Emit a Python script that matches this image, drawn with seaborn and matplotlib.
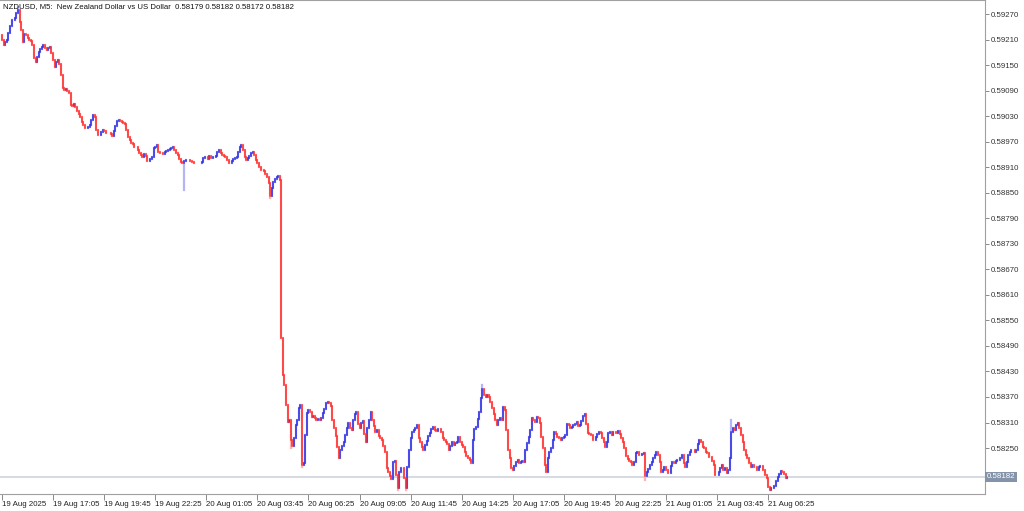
import numpy as np
import pandas as pd
import seaborn as sns
import matplotlib.pyplot as plt

# NZDUSD M5 closes in points (1e-5), one per bar, starting 19 Aug 2025 14:25
closes_pts = [
    59209, 59197, 59204, 59209, 59225, 59242, 59256, 59256, 59261, 59272, 59280, 59251, 59232, 59204, 59223, 59221,
    59214, 59209, 59207, 59197, 59167, 59157, 59169, 59181, 59188, 59193, 59197, 59190, 59186, 59190, 59193, 59178,
    59162, 59146, 59157, 59162, 59153, 59127, 59096, 59092, 59094, 59089, 59084, 59056, 59054, 59059, 59052, 59042,
    59035, 59028, 59016, 59009, 59002, 59002, 59005, 59009, 59021, 59033, 59028, 58998, 58986, 58986, 58993, 58998,
    58995, 58990, 58990, 58990, 58988, 58983, 58995, 59007, 59019, 59021, 59019, 59016, 59014, 59012, 58998, 58981,
    58974, 58967, 58965, 58958, 58958, 58951, 58943, 58939, 58934, 58941, 58936, 58925, 58925, 58929, 58934, 58955,
    58958, 58962, 58946, 58943, 58943, 58941, 58946, 58948, 58951, 58953, 58955, 58958, 58951, 58943, 58939, 58929,
    58922, 58920, 58925, 58927, 58927, 58927, 58925, 58922, 58920, 58920, 58920, 58920, 58920, 58922, 58932, 58934,
    58934, 58930, 58936, 58932, 58935, 58933, 58937, 58946, 58951, 58943, 58939, 58936, 58934, 58927, 58920, 58919,
    58925, 58929, 58932, 58934, 58946, 58958, 58962, 58951, 58934, 58927, 58932, 58936, 58943, 58946, 58939, 58927,
    58920, 58911, 58904, 58904, 58901, 58894, 58887, 58873, 58842, 58861, 58875, 58882, 58887, 58889, 58880, 58509,
    58422, 58398, 58351, 58311, 58316, 58269, 58255, 58274, 58304, 58316, 58344, 58351, 58210, 58215, 58281, 58333,
    58340, 58335, 58323, 58325, 58321, 58316, 58318, 58315, 58321, 58333, 58342, 58356, 58358, 58356, 58349, 58316,
    58297, 58278, 58253, 58227, 58246, 58255, 58264, 58281, 58297, 58309, 58297, 58293, 58316, 58330, 58335, 58307,
    58297, 58309, 58314, 58283, 58264, 58297, 58316, 58335, 58316, 58302, 58288, 58293, 58278, 58274, 58269, 58255,
    58241, 58203, 58194, 58184, 58177, 58217, 58220, 58187, 58156, 58194, 58203, 58203, 58180, 58156, 58206, 58246,
    58274, 58288, 58293, 58297, 58304, 58274, 58264, 58253, 58246, 58257, 58267, 58278, 58285, 58295, 58300, 58293,
    58290, 58295, 58295, 58288, 58274, 58269, 58264, 58260, 58246, 58255, 58264, 58257, 58262, 58264, 58276, 58264,
    58257, 58253, 58241, 58231, 58227, 58222, 58215, 58269, 58295, 58300, 58318, 58335, 58368, 58389, 58375, 58370,
    58375, 58370, 58358, 58344, 58330, 58316, 58304, 58316, 58321, 58316, 58347, 58340, 58293, 58246, 58227, 58203,
    58199, 58208, 58217, 58222, 58215, 58217, 58220, 58217, 58246, 58262, 58276, 58293, 58321, 58316, 58311, 58323,
    58321, 58309, 58276, 58250, 58210, 58194, 58227, 58241, 58250, 58269, 58288, 58283, 58276, 58274, 58269, 58274,
    58276, 58281, 58307, 58304, 58297, 58300, 58304, 58307, 58311, 58302, 58304, 58314, 58325, 58330, 58307, 58285,
    58283, 58281, 58269, 58269, 58276, 58283, 58288, 58285, 58274, 58264, 58253, 58264, 58285, 58288, 58281, 58288,
    58288, 58286, 58289, 58283, 58274, 58264, 58250, 58231, 58224, 58220, 58217, 58210, 58217, 58238, 58241, 58234,
    58233, 58236, 58238, 58184, 58194, 58201, 58210, 58217, 58227, 58234, 58241, 58234, 58217, 58194, 58199, 58206,
    58199, 58191, 58192, 58208, 58217, 58216, 58220, 58222, 58221, 58227, 58234, 58215, 58206, 58217, 58234, 58241,
    58246, 58245, 58241, 58246, 58260, 58269, 58264, 58253, 58250, 58241, 58238, 58229, 58228, 58220, 58210, 58187,
    58187, 58194, 58203, 58210, 58199, 58203, 58191, 58199, 58227, 58288, 58297, 58293, 58304, 58309, 58297, 58281,
    58264, 58246, 58234, 58227, 58215, 58206, 58210, 58206, 58205, 58199, 58206, 58208, 58207, 58199, 58187, 58180,
    58159, 58152, 58156, 58156, 58161, 58173, 58182, 58189, 58196, 58194, 58189, 58179, 58182,
]
first_open_pts = 59221
spike_high = {301: 58398, 457: 58316, 10: 59286}
spike_low = {114: 58857, 168: 58838, 181: 58250, 248: 58152, 253: 58152, 403: 58175, 188: 58205}

price_ticks = [0.59270, 0.59210, 0.59150, 0.59090, 0.59030, 0.58970, 0.58910, 0.58850, 0.58790, 0.58730,
               0.58670, 0.58610, 0.58550, 0.58490, 0.58430, 0.58370, 0.58310, 0.58250, 0.58190]
time_labels = ["19 Aug 2025", "19 Aug 17:05", "19 Aug 19:45", "19 Aug 22:25", "20 Aug 01:05",
               "20 Aug 03:45", "20 Aug 06:25", "20 Aug 09:05", "20 Aug 11:45", "20 Aug 14:25",
               "20 Aug 17:05", "20 Aug 19:45", "20 Aug 22:25", "21 Aug 01:05", "21 Aug 03:45",
               "21 Aug 06:25"]
bars_per_label = 32
last_price = 0.58182
title = "NZDUSD, M5:  New Zealand Dollar vs US Dollar  0.58179 0.58182 0.58172 0.58182"

# build OHLC table
close = np.array(closes_pts) / 1e5
df = pd.DataFrame({"close": close})
df["open"] = df["close"].shift(1).fillna(first_open_pts / 1e5)
df["high"] = df[["open", "close"]].max(axis=1)
df["low"] = df[["open", "close"]].min(axis=1)
for i, v in spike_high.items():
    df.loc[i, "high"] = max(df.loc[i, "high"], v / 1e5)
for i, v in spike_low.items():
    df.loc[i, "low"] = min(df.loc[i, "low"], v / 1e5)
up = df["close"] >= df["open"]

sns.set_theme(style="white")
plt.rcParams["font.family"] = ["Liberation Sans", "DejaVu Sans"]

fig = plt.figure(figsize=(10.24, 5.11), dpi=100)
ax = fig.add_axes([0, 17 / 511, 985 / 1024, 494 / 511])

ax.axhline(last_price, color="#d3d8de", lw=1.3, zorder=0)

# light halo / wicks, then bodies
ax.vlines(df.index[up], df["low"][up], df["high"][up], color="#b4b4f6", lw=1.6, capstyle="projecting")
ax.vlines(df.index[~up], df["low"][~up], df["high"][~up], color="#ffb4b4", lw=1.6, capstyle="projecting")
ax.vlines(df.index[up], df["open"][up], df["close"][up], color="#2c2ce0", lw=1.1, capstyle="projecting")
ax.vlines(df.index[~up], df["close"][~up], df["open"][~up], color="#ff2a2a", lw=1.1, capstyle="projecting")

ax.set_xlim(-1.25, 615.9)
ax.set_ylim(0.58142, 0.59303)

# the last tick label sits under the price tag, as in the terminal
ax.yaxis.tick_right()
ax.set_yticks(price_ticks)
ax.set_yticklabels([f"{p:.5f}" for p in price_ticks[:-1]] + [""])
ax.set_xticks(np.arange(len(time_labels)) * bars_per_label)
ax.set_xticklabels(time_labels, ha="left")
ax.tick_params(axis="y", right=True, length=3, width=0.7, color="#8a8a8a", labelsize=5.7,
               labelcolor="#333333", pad=1)
ax.tick_params(axis="x", bottom=True, length=4, width=0.7, color="#8a8a8a", labelsize=5.7,
               labelcolor="#222222", pad=1)
for s in ["top", "right", "bottom"]:
    ax.spines[s].set_color("#a0a0a0")
    ax.spines[s].set_linewidth(0.8)
ax.spines["left"].set_visible(False)

ax.text(1.002, last_price, "0.58182", transform=ax.get_yaxis_transform(), ha="left", va="center",
        fontsize=5.7, color="white", zorder=10, clip_on=False,
        bbox=dict(boxstyle="square,pad=0.22", fc="#8394aa", ec="none"))

fig.text(3 / 1024, 1 - 7 / 511, title, ha="left", va="center", fontsize=5.6, color="#111111")

fig.savefig("out.png", dpi=100)
